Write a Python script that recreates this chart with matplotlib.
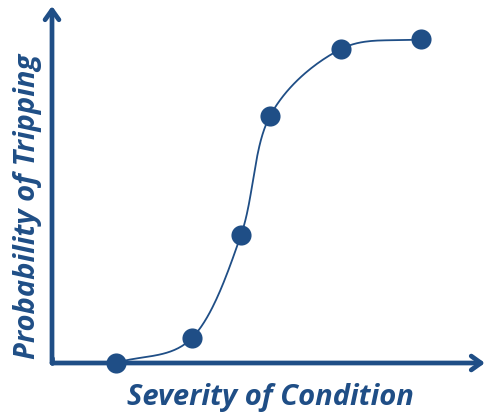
import numpy as np
import matplotlib.pyplot as plt

# data (offsets from the axis origin)
severity = [64, 140, 189, 218, 289, 369]
probability = [0, 25, 128, 247, 314, 324]
x_label = "Severity of Condition"
y_label = "Probability of Tripping"

blue = '#1f4e86'


def catmullRom(xs, ys, steps=40):
    pts = np.column_stack([xs, ys]).astype(float)
    pts = np.vstack([2 * pts[0] - pts[1], pts, 2 * pts[-1] - pts[-2]])
    out = []
    for i in range(1, len(pts) - 2):
        p0, p1, p2, p3 = pts[i - 1], pts[i], pts[i + 1], pts[i + 2]
        t = np.linspace(0, 1, steps)[:, None]
        seg = 0.5 * ((2 * p1) + (-p0 + p2) * t + (2 * p0 - 5 * p1 + 4 * p2 - p3) * t ** 2
                     + (-p0 + 3 * p1 - 3 * p2 + p3) * t ** 3)
        out.append(seg)
    out = np.vstack(out)
    return out[:, 0], out[:, 1]


fig = plt.figure(figsize=(4.87, 4.13), dpi=100)
ax = fig.add_axes([0, 0, 1, 1])
ax.set_xlim(-52, 435)
ax.set_ylim(-50, 363)
ax.axis('off')

# axes with arrow heads
arrow = dict(arrowstyle='->,head_length=0.7,head_width=0.5', color=blue, lw=3.4,
             capstyle='round', joinstyle='round', shrinkA=0, shrinkB=0)
ax.annotate('', xy=(0, 357), xytext=(0, 0), arrowprops=arrow)
ax.annotate('', xy=(433, 0), xytext=(0, 0), arrowprops=arrow)
ax.plot([0, 0], [0, 5], color=blue, lw=3.4, solid_capstyle='round')

cx, cy = catmullRom(severity, probability)
ax.plot(cx, cy, color=blue, lw=1.3, zorder=3)
ax.scatter(severity, probability, s=210, color=blue, zorder=4, linewidths=0)

ax.text(218, -42, x_label, ha='center', va='baseline', fontsize=21, color=blue,
        fontweight='bold', fontstyle='italic', family='Open Sans')
ax.text(-24, 157, y_label, ha='center', va='center', rotation=90, fontsize=21, color=blue,
        fontweight='bold', fontstyle='italic', family='Open Sans')

fig.savefig('out.png', dpi=100)
